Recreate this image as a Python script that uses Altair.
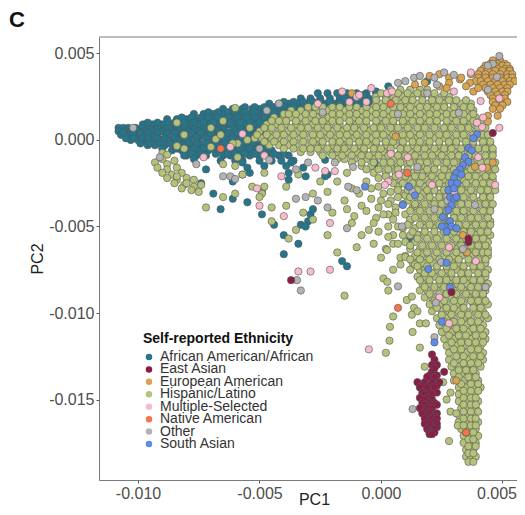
import altair as alt
import pandas as pd

# All coordinates, in units of 1e-4 of PC1 / PC2.
teal_rows = {
 27:[-26,-22,-18,-14,-10,-6,-2],
 24:[-33,-29,-25,-21,-17,-13,-9,-5],
 21:[-46,-42,-38,-34,-30,-27,-23,-19,-15,-12,-8],
 18:[-65,-61,-57,-53,-50,-46,-42,-38,-34,-30,-27],
 15:[-77,-73,-69,-65,-62,-58,-54,-50,-46,-42,-38],
 12:[-88,-84,-80,-76,-73,-69,-65,-61,-57,-54,-50,-46],
 9:[-98,-94,-90,-86,-83,-79,-75,-71,-67,-63,-60,-56,-52,-48],
 7:[-108,-106,-104,-101,-98,-95,-92,-88,-84,-81,-77,-73,-69,-65,-61,-58,-54,-50,-46],
 5:[-108,-105,-103,-100,-97,-94,-90,-86,-83,-79,-75,-71,-67,-64,-60,-56,-52,-48],
 3:[-107,-104,-101,-98,-95,-92,-88,-84,-81,-77,-73,-69,-65,-62,-58,-54,-50],
 0:[-103,-100,-97,-94,-90,-86,-82,-79,-75,-71,-67,-63,-60,-56,-52,-48],
 -3:[-96,-93,-89,-85,-81,-78,-74,-70,-66,-62,-58,-55,-51,-47],
 -6:[-86,-82,-79,-75,-71,-67,-64,-60,-56,-53,-49,-45],
 -9:[-80,-76,-72,-65,-62,-58,-54,-50,-46,-42,-38],
 -12:[-66,-60,-57,-50,-45,-41,-36],
 22:[-40,-36,-32,-28,-25,-21,-17,-14,-10,-6],
 19:[-56,-52,-48,-44,-40,-36,-32,-29],
 16:[-71,-67,-63,-60,-56,-52,-48,-44,-40],
 13:[-82,-78,-74,-71,-67,-63,-59,-55,-52,-48],
 10:[-96,-92,-88,-85,-81,-77,-73,-69,-65,-62,-58,-54,-50],
 4:[-106,-102,-99,-96,-92,-88,-85,-82,-78,-74,-70,-66,-63,-59,-55,-51,-47],
 1:[-105,-102,-98,-96,-92,-89,-85,-80,-76,-72,-68,-65,-61,-57,-53,-49],
 -2:[-99,-95,-91,-87,-83,-79,-76,-72,-68,-64,-60,-57,-53,-49],
 -5:[-90,-84,-80,-77,-73,-69,-65,-62,-58,-54,-51,-47],
 -8:[-78,-74,-68,-63,-60,-56,-52,-48,-44,-40],
}
teal_x = [-69,-61,-66,-55,-49,-44,-40,-33,-30,-29,-28,-61,-74,-57,-49,-38,-38,-32,-31,-37,-39,-72,-77,-81,-57,-55,-54,-48,-40,-34,-31,-16,-14,-23,-22,-23,-2.5,-1,24,12,19,3,-2,-8,-7,-17,38,-12,-9,-5,-15]
teal_y = [-31,-34,-40,-36,-43,-49,-55,-49,-47,-43,-40,-24,-25,-20,-30,-23,-19,-16,-21,-13,-15,-17,-11,-9,-13,-16,-19,-15,-66,-60,-50,-70,-73,-11.5,-20,-21,-13,-16,-31,-57,34,31,28,20,26,21,-169,25,26,22,24]

green_rows = {
 29:[4,8,12,16,19],
 25:[-2,2,5,9,13,17,21,25,28],
 21:[-4,0,4,8,11,15,19,22,26,30,33,37],
 17:[-37,-33,-30,-26,-22,-19,-15,-12,-8,-4,-1,3,6,10,14,17,21,25,28,32,35,38],
 13:[-44,-40,-37,-33,-29,-26,-22,-18,-15,-11,-8,-4,0,3,7,11,14,18,21,25,29,32,36,39],
 9:[-47,-43,-39,-35,-32,-28,-24,-21,-17,-13,-10,-6,-2,1,5,9,12,16,19,23,27,30,34,37,40],
 5:[-50,-46,-42,-38,-34,-31,-27,-23,-20,-16,-12,-9,-5,-1,3,6,10,14,17,21,25,28,32,35,39,42],
 1:[-49,-45,-41,-37,-33,-29,-26,-22,-18,-15,-11,-7,-4,0,4,8,11,15,19,22,26,30,33,37,41,43],
 -3:[-46,-42,-38,-35,-31,-27,-24,-20,-16,-13,-9,-5,-2,2,6,9,13,17,20,24,28,31,35,38,42,45],
 -7:[-33,-29,-25,-21,-18,-14,-10,-7,-3,1,4,8,12,15,19,23,26,30,33,37,40,44,46],
 -11:[-18,-15,-11,-6,-3,1,5,9,13,16,20,24,27,31,34,38,41,45],
 -15:[-8,-4,0,4,7,11,15,18,22,26,29,33,36,40,43,46],
 -19:[-14,-3,2,6,9,13,17,20,24,28,31,35,38,42,45],
 -23:[4,8,12,15,19,23,26,30,34,37,41,44,46],
 -27:[-1,7,11,14,18,22,26,29,33,36,40,43,46],
 -31:[9,13,17,20,24,28,31,35,38,42,45],
 -35:[4,11,15,19,22,26,30,33,37,41,44],
 -39:[6,13,17,21,25,28,32,35,39,43,45],
 -43:[3,10,15,19,23,26,30,34,37,41,44],
 -47:[12,17,21,25,28,32,36,39,43,45],
 -51:[9,14,18,22,26,30,34,37,40,44],
 -55:[5,12,16,20,24,28,32,35,39,42,45],
 -59:[10,14,18,22,26,30,33,37,40,44],
 -63:[2,12,16,20,24,28,31,35,38,42,44],
 -67:[10,14,18,22,26,30,33,37,41,44],
 -71:[13,17,21,25,29,32,36,39,43],
 -75:[12,16,19,23,27,31,34,38,41,44],
 -79:[15,18,22,26,29,33,36,40,43],
 -83:[17,20,24,28,31,35,38,42,44],
 -87:[16,19,23,27,30,34,37,41,43],
 -91:[18,21,25,29,32,36,39,42],
 -95:[20,24,27,31,34,38,41,44],
 -99:[21,25,28,32,35,39,42],
 -103:[23,27,30,34,37,41,44],
 -107:[24,28,31,35,38,42],
 -111:[25,29,32,36,39,43],
 -115:[26,30,33,37,40,43],
 -119:[27,31,34,38,41],
 -123:[28,32,35,39,42],
 -127:[28,33,36,39,42],
 -131:[29,32,35,38,41],
 -135:[30,33,36,39],
 -139:[30,34,37,40],
 -143:[32,35,38,41],
 -147:[32,35,38],
 -151:[32,35,38,40],
 -155:[33,36,39],
 -159:[32,35,38],
 -163:[32,35,38,40],
 -167:[33,36,39],
 -171:[34,37,40],
 -175:[34,37,39],
 -179:[35,38],
 -183:[35,37,39],
 -186:[36,38],
}
green_rows_between = {
 27:[0,3,7,11,15,18,22,26],
 23:[-2,2,6,10,13,17,21,24,28,31,35],
 19:[-30,-27,-24,-20,-17,-13,-10,-6,-2,1,5,8,12,16,19,23,26,30,34,37],
 15:[-40,-38,-35,-31,-28,-24,-20,-17,-13,-10,-6,-2,1,5,9,12,16,20,23,27,30,34,38],
 11:[-45,-42,-39,-35,-31,-27,-24,-20,-17,-13,-9,-6,-2,2,5,9,13,16,20,23,27,31,34,38,41],
 7:[-48,-45,-41,-37,-33,-30,-26,-22,-18,-14,-11,-7,-3,0,4,7,11,15,18,22,26,29,33,36,40,43],
 3:[-51,-47,-43,-40,-36,-32,-28,-25,-21,-17,-14,-10,-6,-2,1,5,9,12,16,20,24,27,31,34,38,42,44],
 -1:[-48,-44,-40,-36,-32,-28,-24,-20,-17,-13,-9,-6,-2,2,5,9,13,16,20,24,28,31,35,38,42,45],
 -5:[-40,-36,-32,-29,-26,-22,-18,-15,-11,-7,-3,0,4,8,11,15,18,22,26,29,33,36,40,43,46],
 -9:[-24,-20,-16,-12,-8,-5,-1,3,7,10,14,18,21,25,29,32,36,39,43,46],
 -13:[-12,-8,-3,1,4,8,12,16,19,23,27,30,34,37,41,44,47],
 -17:[-6,-1,3,7,11,15,19,22,26,30,33,37,40,44,47],
 -21:[2,6,10,14,17,21,25,28,32,36,39,43,46],
 -25:[5,9,13,16,20,24,28,31,35,39,42,45],
 -29:[7,11,15,19,22,26,30,33,37,41,44,47],
 -33:[12,16,20,24,27,31,34,38,42,45],
 -37:[9,14,18,22,25,29,33,36,40,43,46],
 -41:[12,16,20,24,27,31,34,38,42,45],
 -45:[14,18,22,26,30,33,37,40,44],
 -49:[11,16,20,24,28,32,35,39,42,45],
 -53:[13,18,22,26,30,34,37,41,44],
 -57:[15,19,23,27,31,35,39,42],
 -61:[12,17,21,25,29,33,37,40,43],
 -65:[15,19,23,27,31,35,39,42,44],
 -69:[12,16,20,24,28,32,36,40,43],
 -73:[15,19,23,27,30,34,38,41],
 -77:[18,21,25,29,33,36,40,43],
 -81:[16,20,24,27,31,34,38,41],
 -85:[18,22,26,29,33,37,40,43],
 -89:[20,24,27,31,35,39,42],
 -93:[22,26,30,33,37,40,43],
 -97:[23,27,30,34,38,41],
 -101:[25,29,33,36,40,43],
 -105:[26,30,33,37,40],
 -109:[27,31,34,38,41],
 -113:[28,32,35,39,42],
 -117:[29,33,36,39,42],
 -121:[30,33,37,40],
 -125:[31,34,38,41],
 -129:[30,34,37,40],
 -133:[32,35,38],
 -137:[32,36,39],
 -141:[33,37,40],
 -145:[34,37,40],
 -149:[34,37,39],
 -153:[34,37,39],
 -157:[34,37,40],
 -161:[34,37,39],
 -165:[34,37,39],
 -169:[35,38],
 -173:[36,38],
 -177:[36,39],
 -181:[36,38],
}
green_x = [-93,-90,-88,-85,-92,-88,-84,-90,-86,-82,-88,-84,-80,-77,-85,-81,-77,-74,-82,-78,-75,-84,-80,
 -72,-65,-60,-48,-57,-53,-48,-49,-50,-45,-39,-32,-28,-45,-35,-38,-39,-34,-28,
 -18,-10,-22,-5,-12,-2,-20,-8,-15,0,-22,-12,-4,-25,-18,4,
 10,14,6,12,3,9,15,5,17,8,14,18,-3,0,
 2,3.5,3.7,5,12.7,13,16,16,18.5,13.6,15,10.6,12.7,3,1,2.6,5,8,10,2.5,18,25.6,28.6,27,28.6,31,28,31.6,-15,
 -84,-65,-81,-70,-68,-66,-60,-70,-84,-81,-90,-88,-59,-65,-60,-59,-54,-52,-55,-61,
 -6,-1,-9,-4,1,-11,-6,-1,3,7,-3,1,5,7,-8,-1,3,7,-14]
green_y = [-13,-11,-14,-12,-16,-17,-16,-19,-20,-19,-22,-23,-22,-23,-25,-26,-27,-26,-28,-29,-30,-21,-25,
 -39,-33,-31,-19,-20,-27,-27,-31,-33,-39,-38,-42,-46,-47,-52,-57,-27,-20,-31,
 -65,-62,-55,-52,-48,-45,-42,-38,-35,-35,-30,-28,-28,-24,-24,-30,
 -32,-38,-42,-46,-50,-55,-55,-60,-66,-68,-72,-75,-60,-68,
 -123,-116,-108,-102,-101,-111,-120,-106,-106,-97,-99,-92.5,-90.5,-87,-80,-82,-75,-72,-67.6,-63.6,-131,-140,-146,-150,-157,-158,-174,-165,-90,
 10,11,3,7,0.5,3,18.5,-4,-3.5,-5,-7.5,-8.5,-10,-14,-15,-2,7,1,0,-2,
 -24,-22,-31,-34,-31,-44,-41,-39,-37,-33,-48,-43,-46,-50,-55,-53,-56,-60,-40]

tan_rows = {
 46:[46,49], 44:[45,48,51], 43:[43,47,50,52], 41:[42,45,48,51,53], 40:[41,44,47,50,53],
 38:[40,43,46,49,52,54], 36:[40,43,46,49,52,54], 34:[39,41,44,47,50,53,55],
 32:[42,45,48,51,53], 30:[43,46,49,52], 28:[44,47,50,52], 26:[45,48,51], 24:[46,49,51],
 22:[46,49,52], 20:[47,50], 18:[46,49], 14:[44,48],
}
tan_x = [32.5,36.6,38,-12,6,44,46,38.7,43.6,33.7,35.4,31,28,24,20,24,28,33,37,40,18,14,27,35]
tan_y = [35,33,28,27,2,10.6,-13,-15.5,-16,-55,-65,-139,36,38,37,31,33,36,38,30,33,32,30,31]

pink_x = [-16,-13,-10,-9,-6,-4,2.5,4.5,30,37,41,42,41.6,39.5,48.7,48.7,40,41.7,47,21,30,4,11,7.4,3,1.6,-19,-23,-21,
 -73,-62,-57,-48,-41,-51,-50,-40,-27,-26,28,39,24,28,19,-5,-29,-21,-34]
pink_y = [28,22,25,26,22,30,27,28,28,39,22.5,13,7.5,10,24,7,-10,-16,-26,-26,-30,-8,-10,-20,-24,-26,-18,-18,-48,
 -10,-4,3.5,-9,-21,-28,-38,-44,-16,21,-62,-70,-91,-106,-153,-121,-76,-75,-76]

gray_x = [48.7,46,44,7,10,13.6,16,22,26,30,23,19,7,32,-24,-19,-11.5,-22,-13.5,-10,-14,13,15,22,27.4,38.7,44,47.7,8.6,
 -102,-91,-76,-65,-62,-60,-50,-46,-47,-42,-35,-31,-26,-35,-30,7,22.6,13,22,43,33.7,24.7,-34.6,-33]
gray_y = [48.5,44,43,33,34,36,37,36,39,37.6,32,27,15,15.6,16,-13,-15.6,-39,-27,-29,-51,-30,-15.6,-40,-35,-37.6,29,36.4,-50,
 7,-10,-14,-21,-21,-22.5,-5,-11.6,17,21,-34,-33,-35,-17,-13,-84.6,-94,-155.5,-114,-85,-63,-70.5,-81,-87]

blue_x = [39.5,38,36,37.4,34.6,36,33.7,32.5,31,33,30,29,31.4,27.7,30,28.4,30,29,27.7,25.5,28.4,26.3,29,31,27,25,31,
 -6.6,11.5,14,9,27,19.5,25,22,21,28.4]
blue_y = [3.3,1,-4.7,-6,-10,-12.6,-14.5,-17,-19,-20,-22,-25,-25,-29,-28,-33,-34,-37.6,-40.5,-44.5,-47,-50,-50,-51,-53,-50,-33,
 -27,-27,-32,-37.6,-71,-74.6,-105,-117,-134,-85]

maroon_rows = {
 -124:[21], -127:[22], -130:[23,21], -132:[22], -134:[21,26], -136:[20,23], -137:[19,22],
 -140:[15,18,21,24], -142:[17,20,23], -143:[16,19,22], -146:[17,20,23], -147:[18,21], -149:[16,19], -150:[18,21],
 -152:[17,20,22], -153:[18,21,23], -155:[16,19,21], -157:[18,21], -158:[17,20,23], -160:[19,22], -161:[18,21,23],
 -163:[19,22], -164:[18,20,23], -166:[20,23], -167:[19,22], -169:[20,22], -170:[20,21],
}
maroon_x = [29,36,46,36,-37]
maroon_y = [-88,-59,4,-57,-81]

native_x = [4,10.8,-66,7,35]
native_y = [21,-19,-5,-97,-169]

names = ["African American/African", "East Asian", "European American", "Hispanic/Latino",
         "Multiple-Selected", "Native American", "Other", "South Asian"]
colors = ["#23768C", "#8A1C46", "#D9A44F", "#B5C27A", "#F7BBCB", "#F4744C", "#B3B3B3", "#5F8BE6"]
legend_title = "Self-reported Ethnicity"

rows = []
def add(name, table=None, xs=(), ys=()):
    for y, row in (table or {}).items():
        rows.extend({"PC1": x * 1e-4, "PC2": y * 1e-4, "group": name} for x in row)
    rows.extend({"PC1": x * 1e-4, "PC2": y * 1e-4, "group": name} for x, y in zip(xs, ys))

add(names[0], teal_rows, teal_x[:-4], teal_y[:-4])
add(names[3], green_rows, green_x, green_y)
add(names[3], green_rows_between)
add(names[0], None, teal_x[-4:], teal_y[-4:])
add(names[2], tan_rows, tan_x, tan_y)
add(names[4], None, pink_x, pink_y)
add(names[6], None, gray_x, gray_y)
add(names[7], None, blue_x, blue_y)
add(names[1], maroon_rows, maroon_x, maroon_y)
add(names[5], None, native_x, native_y)
df = pd.DataFrame(rows)
legend_df = pd.DataFrame({"group": names})

x_ticks = [-0.010, -0.005, 0.0, 0.005]
y_ticks = [0.005, 0.0, -0.005, -0.010, -0.015]
label_expr = "replace(format(datum.value, '.3f'), '\u2212', '-')"
frame = "#7a7a7a"
color_scale = alt.Scale(domain=names, range=colors)
legend_y = alt.Y("group:N", scale=alt.Scale(type="point", domain=names, range=[320, 407], padding=0), axis=None)

points = alt.Chart(df).mark_point(filled=True, size=54, opacity=1, stroke="#555555", strokeWidth=0.6, clip=True).encode(
    x=alt.X("PC1:Q", scale=alt.Scale(domain=[-0.011605, 0.005597], nice=False, zero=False),
            axis=alt.Axis(values=x_ticks, labelExpr=label_expr, grid=False, domain=True, domainColor=frame, tickSize=3,
                          tickColor="#555555", labelColor="#4D4D4D", labelFontSize=16, labelFont="Liberation Sans",
                          labelPadding=2, title="PC1", titleFontSize=16, titleFont="Liberation Sans",
                          titleFontWeight="normal", titleColor="#222222", titleX=215, titleY=27,
                          titleBaseline="bottom", labelOverlap=False, labelFlush=False,
                          labelOffset={"condition": {"test": "datum.value > 0.004", "value": -6}, "value": 0})),
    y=alt.Y("PC2:Q", scale=alt.Scale(domain=[-0.01965, 0.00595], nice=False, zero=False),
            axis=alt.Axis(values=y_ticks, labelExpr=label_expr, grid=False, domain=True, domainColor=frame, tickSize=3,
                          tickColor="#555555", labelColor="#4D4D4D", labelFontSize=16, labelFont="Liberation Sans",
                          labelPadding=2, title="PC2", titleFontSize=16, titleFont="Liberation Sans",
                          titleFontWeight="normal", titleColor="#222222", titlePadding=3, labelOverlap=False)),
    color=alt.Color("group:N", scale=color_scale, legend=None),
)

top_edge = alt.Chart(pd.DataFrame({"edge": [0]})).mark_rule(color=frame, strokeWidth=1).encode(
    y=alt.value(0), x=alt.value(0), x2=alt.value(418)
)

panel_letter = alt.Chart(pd.DataFrame({"t": ["C"]})).mark_text(
    font="Liberation Sans", fontWeight="bold", fontSize=22, align="left", color="#111111"
).encode(text="t:N", x=alt.value(-90), y=alt.value(-17))

legend_symbols = alt.Chart(legend_df).mark_point(filled=True, size=42, opacity=1, strokeWidth=0).encode(
    x=alt.value(50), y=legend_y, color=alt.Color("group:N", scale=color_scale, legend=None)
)
legend_labels = alt.Chart(legend_df).mark_text(
    font="Liberation Sans", fontSize=14, align="left", baseline="middle", color="#333333"
).encode(x=alt.value(61), y=legend_y, text="group:N")
legend_heading = alt.Chart(pd.DataFrame({"t": [legend_title]})).mark_text(
    font="Liberation Sans", fontSize=14, fontWeight="bold", align="left", baseline="middle", color="#111111"
).encode(x=alt.value(44), y=alt.value(302), text="t:N")

legend_layer = alt.layer(legend_symbols, legend_labels)

chart = alt.layer(points, top_edge, panel_letter, legend_heading, legend_layer).resolve_scale(y="independent").properties(
    width=418, height=443, background="white",
    padding={"left": 91, "top": 29, "right": 0, "bottom": 27},
    autosize=alt.AutoSizeParams(type="none"),
).configure_view(stroke=None)

chart.save("out.html", embed_options={"renderer": "svg", "actions": False})
